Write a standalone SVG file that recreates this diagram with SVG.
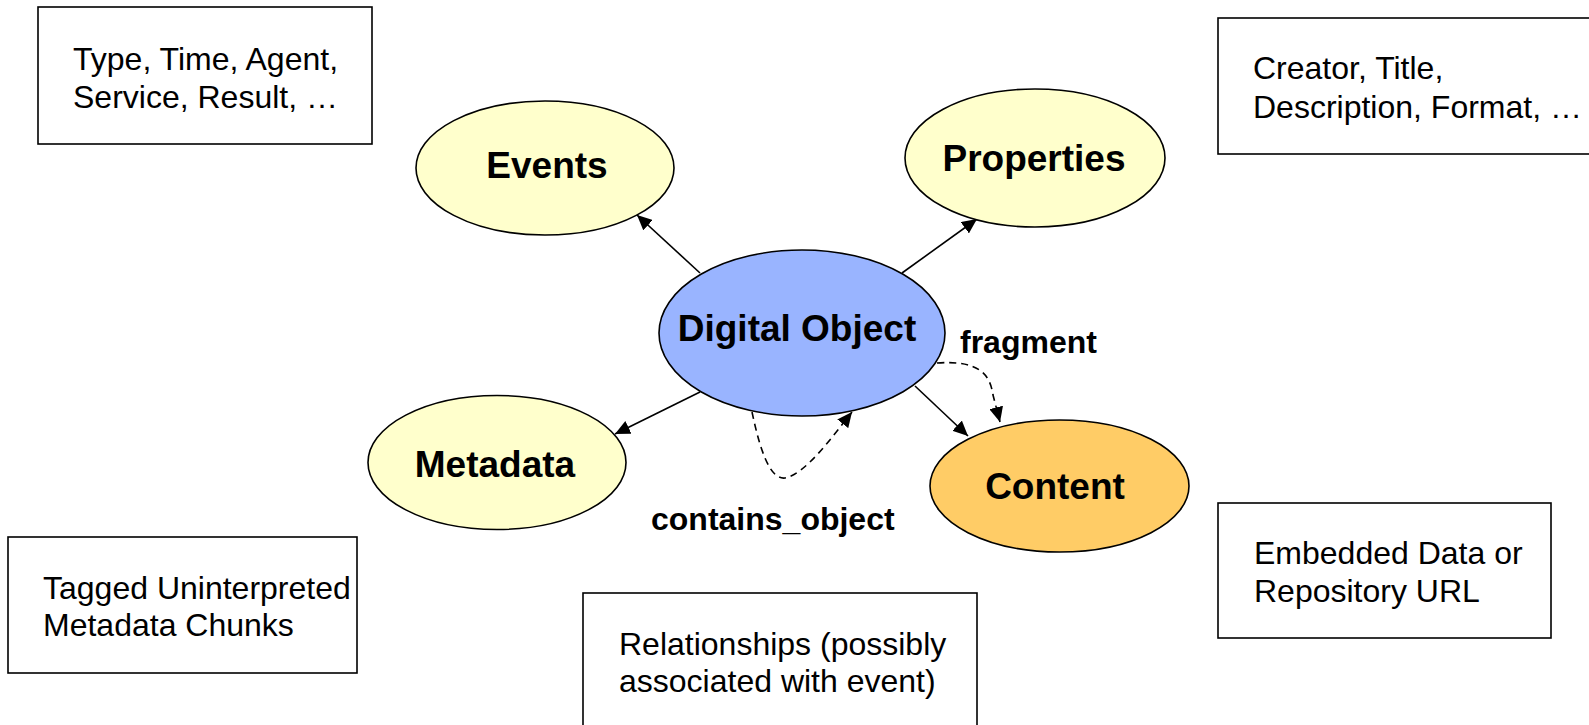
<svg xmlns="http://www.w3.org/2000/svg" width="1589" height="725" viewBox="0 0 1589 725">
<style>
.box{fill:#ffffff;stroke:#000;stroke-width:1.6}
.txt{font-family:"Liberation Sans",Arial,sans-serif;font-size:32px;fill:#000}
.lbl{font-family:"Liberation Sans",Arial,sans-serif;font-size:37px;font-weight:bold;fill:#000;text-anchor:middle}
.elbl{font-family:"Liberation Sans",Arial,sans-serif;font-size:32px;font-weight:bold;fill:#000}
.ell{stroke:#000;stroke-width:1.6}
.edge{fill:none;stroke:#000;stroke-width:1.6}
.dash{stroke-dasharray:7,5}
</style>
<defs>
<marker id="arr" markerUnits="userSpaceOnUse" markerWidth="16" markerHeight="14" refX="15" refY="7" orient="auto">
<path d="M0,0 L15,7 L0,14 z" fill="#000"/>
</marker>
</defs>
<rect width="1589" height="725" fill="#ffffff"/>
<g id="box-events-info">
<rect class="box" x="38" y="7" width="334" height="137"/>
<text class="txt" x="73" y="70">Type, Time, Agent,</text>
<text class="txt" x="73" y="108">Service, Result, …</text>
</g>
<g id="box-properties-info">
<rect class="box" x="1218" y="18" width="390" height="136"/>
<text class="txt" x="1253" y="79">Creator, Title,</text>
<text class="txt" x="1253" y="118">Description, Format, …</text>
</g>
<g id="box-metadata-info">
<rect class="box" x="8" y="537" width="349" height="136"/>
<text class="txt" x="43" y="599">Tagged Uninterpreted</text>
<text class="txt" x="43" y="636">Metadata Chunks</text>
</g>
<g id="box-relationships">
<rect class="box" x="583" y="593" width="394" height="150"/>
<text class="txt" x="619" y="655">Relationships (possibly</text>
<text class="txt" x="619" y="692">associated with event)</text>
</g>
<g id="box-content-info">
<rect class="box" x="1218" y="503" width="333" height="135"/>
<text class="txt" x="1254" y="564">Embedded Data or</text>
<text class="txt" x="1254" y="602">Repository URL</text>
</g>
<g id="connectors">
<line class="edge" x1="700" y1="273" x2="637" y2="215" marker-end="url(#arr)"/>
<line class="edge" x1="902" y1="273" x2="977" y2="219" marker-end="url(#arr)"/>
<line class="edge" x1="700" y1="392" x2="615" y2="434" marker-end="url(#arr)"/>
<line class="edge" x1="915" y1="386" x2="968" y2="436" marker-end="url(#arr)"/>
<path class="edge dash" d="M937,363 C980,360 990,375 993,395 L1000,422" marker-end="url(#arr)"/>
<path class="edge dash" d="M752,412 C760,450 770,480 785,478 C805,474 830,440 852,412" marker-end="url(#arr)"/>
<text class="elbl" x="960" y="353">fragment</text>
<text class="elbl" x="651" y="530">contains_object</text>
</g>
<g id="node-events">
<ellipse class="ell" cx="545" cy="168" rx="129" ry="67" fill="#FFFFCC"/>
<text class="lbl" x="547" y="178">Events</text>
</g>
<g id="node-properties">
<ellipse class="ell" cx="1035" cy="158" rx="130" ry="69" fill="#FFFFCC"/>
<text class="lbl" x="1034" y="171">Properties</text>
</g>
<g id="node-digital-object">
<ellipse class="ell" cx="802" cy="333" rx="143" ry="83" fill="#99B4FF"/>
<text class="lbl" x="797" y="341">Digital Object</text>
</g>
<g id="node-metadata">
<ellipse class="ell" cx="497" cy="462.5" rx="129" ry="67" fill="#FFFFCC"/>
<text class="lbl" x="495" y="477">Metadata</text>
</g>
<g id="node-content">
<ellipse class="ell" cx="1059.5" cy="486" rx="129.5" ry="66" fill="#FFCC66"/>
<text class="lbl" x="1055" y="499">Content</text>
</g>
</svg>
